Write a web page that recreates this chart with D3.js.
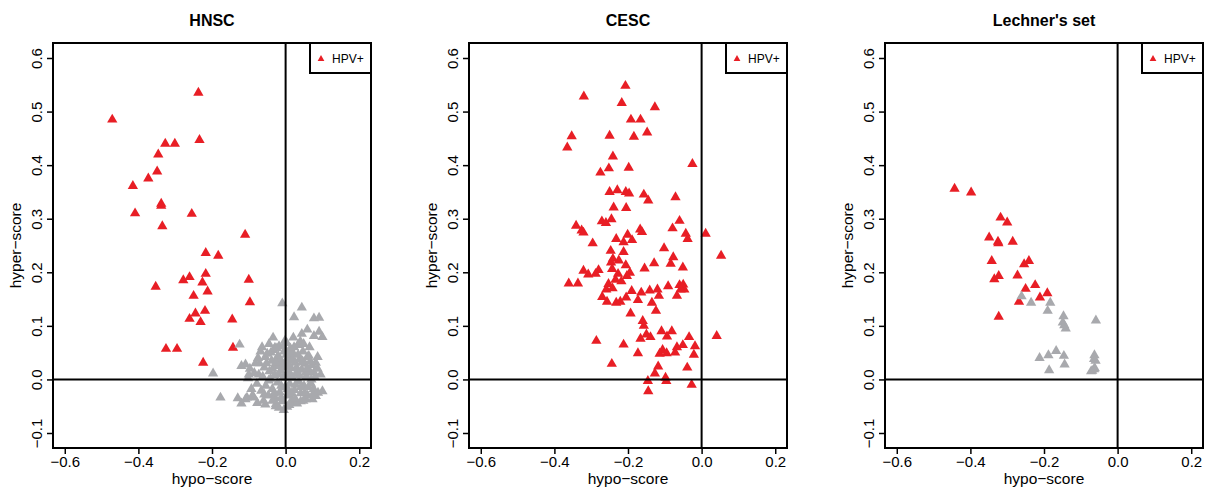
<!DOCTYPE html>
<html>
<head>
<meta charset="utf-8">
<script src="https://cdn.jsdelivr.net/npm/d3@7"></script>
<style>
  html, body { margin: 0; padding: 0; background: #fff; }
  svg { display: block; }
  text { font-family: "Liberation Sans", Arial, Helvetica, sans-serif; fill: #000; }
</style>
</head>
<body>
<svg id="chart" width="1205" height="491"></svg>
<script>
// ---------------- DATA ----------------
const panelTitles = ["HNSC", "CESC", "Lechner's set"];
const xTicks = [-0.6, -0.4, -0.2, 0.0, 0.2];
const yTicks = [-0.1, 0.0, 0.1, 0.2, 0.3, 0.4, 0.5, 0.6];
const xLabel = "hypo\u2212score";
const yLabel = "hyper\u2212score";
const legendLabel = "HPV+";

// HNSC, HPV+ samples [hypo-score, hyper-score]
const hnscPos = [
  [-0.471,0.485],[-0.237,0.535],[-0.234,0.447],[-0.327,0.440],[-0.301,0.440],
  [-0.346,0.420],[-0.349,0.388],[-0.373,0.375],[-0.415,0.361],[-0.338,0.328],
  [-0.338,0.324],[-0.409,0.310],[-0.255,0.309],[-0.335,0.286],[-0.110,0.270],
  [-0.217,0.236],[-0.183,0.231],[-0.261,0.191],[-0.278,0.185],[-0.217,0.197],
  [-0.100,0.186],[-0.226,0.181],[-0.353,0.173],[-0.212,0.164],[-0.250,0.156],
  [-0.097,0.144],[-0.219,0.128],[-0.245,0.123],[-0.261,0.113],[-0.231,0.107],
  [-0.145,0.112],[-0.325,0.057],[-0.295,0.057],[-0.143,0.059],[-0.224,0.031],
  [-0.023,0.029]
];
// HNSC, other samples
const hnscNeg = [
  [-0.009,0.142],[0.044,0.134],[0.023,0.116],[0.077,0.114],[0.091,0.115],
  [0.059,0.093],[0.044,0.085],[0.091,0.089],[0.077,0.081],[0.100,0.079],
  [-0.034,0.078],[-0.125,0.065],[-0.029,0.059],[-0.002,0.072],[0.065,0.060],
  [-0.055,0.042],[-0.023,0.041],[0.059,0.042],[0.087,0.042],[-0.197,0.011],
  [-0.177,-0.034],[-0.130,-0.035],[-0.120,-0.045],[-0.105,-0.034],[-0.120,0.025],
  [0.088,-0.025],[-0.005,-0.057],[-0.109,0.028],[-0.100,0.009],[-0.073,0.009],
  [-0.109,-0.037],[-0.086,-0.034],[-0.077,-0.044],[-0.055,-0.047],[-0.027,-0.050],
  [-0.018,-0.053],[0.018,-0.044],[0.041,-0.041],[0.055,-0.037],[0.073,-0.037],
  [0.082,-0.031],[0.100,-0.022],[0.095,0.009],[0.077,0.013],[0.082,0.031],
  [0.046,0.034],[0.055,0.013],
  [-0.085,0.012],[-0.078,-0.008],[-0.071,0.030],[-0.066,-0.021],[-0.062,0.005],
  [-0.058,0.022],[-0.054,-0.012],[-0.050,0.048],[-0.047,-0.030],[-0.044,0.015],
  [-0.041,0.001],[-0.038,0.035],[-0.036,-0.018],[-0.033,0.055],[-0.030,0.008],
  [-0.028,-0.035],[-0.025,0.025],[-0.022,-0.006],[-0.020,0.044],[-0.018,0.062],
  [-0.016,-0.024],[-0.013,0.016],[-0.011,0.033],[-0.009,-0.041],[-0.007,0.003],
  [-0.004,0.052],[-0.002,-0.015],[0.001,0.024],[0.003,0.068],[0.005,-0.030],
  [0.007,0.010],[0.009,0.040],[0.011,-0.008],[0.013,0.058],[0.015,0.021],
  [0.017,-0.038],[0.019,0.003],[0.022,0.047],[0.024,-0.020],[0.026,0.031],
  [0.029,0.012],[0.031,-0.045],[0.033,0.064],[0.036,-0.004],[0.038,0.038],
  [0.041,-0.026],[0.044,0.018],[0.047,0.052],[0.050,-0.012],[0.053,0.029],
  [0.056,0.006],[0.060,-0.030],[0.063,0.044],[0.066,0.015],[0.069,-0.008],
  [0.072,0.027],[0.076,-0.018],[0.080,0.004],[-0.093,-0.018],[-0.097,0.020],
  [-0.068,0.052],[-0.045,0.066],[0.021,0.078],[0.040,0.071],[-0.026,-0.046],
  [0.004,-0.051],[0.048,-0.040],[-0.102,0.002],[0.087,0.020],[-0.060,-0.040],
  [-0.075,0.040],[-0.064,0.060],[-0.052,0.030],[-0.046,-0.002],[-0.040,0.050],
  [-0.035,0.020],[-0.031,-0.026],[-0.024,0.058],[-0.019,0.010],[-0.015,0.036],
  [-0.012,-0.012],[-0.008,0.022],[-0.006,0.062],[-0.003,0.030],[0.000,0.004],
  [0.002,0.046],[0.006,-0.018],[0.008,0.028],[0.012,0.050],[0.014,0.008],
  [0.016,-0.026],[0.020,0.036],[0.023,0.060],[0.027,-0.010],[0.030,0.022],
  [0.034,0.046],[0.037,0.008],[0.042,-0.014],[0.045,0.032],[0.049,0.066],
  [0.052,-0.025],[0.058,0.020],[0.062,-0.014],[0.067,0.034],[0.070,0.000],
  [0.074,-0.028],[-0.090,-0.030],[-0.082,0.030],[-0.058,-0.028],[-0.036,-0.040],
  [-0.012,-0.034],[0.010,-0.048],[0.026,-0.036],[-0.021,0.027],[-0.026,0.031]
];
// CESC, HPV+ samples
const cescPos = [
  [-0.207,0.548],[-0.320,0.528],[-0.217,0.516],[-0.127,0.508],[-0.192,0.485],
  [-0.166,0.485],[-0.353,0.454],[-0.250,0.455],[-0.184,0.453],[-0.148,0.461],
  [-0.365,0.433],[-0.241,0.416],[-0.025,0.402],[-0.252,0.394],[-0.198,0.395],
  [-0.275,0.386],[-0.250,0.350],[-0.229,0.353],[-0.206,0.350],[-0.197,0.347],
  [-0.157,0.345],[-0.145,0.334],[-0.071,0.340],[-0.239,0.321],[-0.205,0.320],
  [-0.060,0.296],[-0.271,0.295],[-0.245,0.299],[-0.260,0.292],[-0.341,0.287],
  [-0.326,0.278],[-0.321,0.274],[-0.167,0.280],[-0.162,0.275],[-0.079,0.282],
  [-0.043,0.272],[0.011,0.272],[-0.038,0.262],[-0.201,0.270],[-0.232,0.262],
  [-0.189,0.260],[-0.296,0.254],[-0.212,0.256],
  [-0.247,0.240],[-0.212,0.238],[-0.102,0.245],[-0.077,0.228],[0.053,0.231],
  [-0.241,0.225],[-0.225,0.222],[-0.246,0.218],[-0.084,0.216],[-0.129,0.217],
  [-0.206,0.213],[-0.243,0.206],[-0.155,0.207],[-0.051,0.209],[-0.321,0.203],
  [-0.280,0.204],[-0.195,0.199],[-0.308,0.196],[-0.288,0.197],[-0.227,0.197],
  [-0.203,0.193],[-0.234,0.186],[-0.218,0.183],[-0.361,0.179],[-0.336,0.179],
  [-0.253,0.178],[-0.091,0.174],[-0.060,0.176],[-0.050,0.177],[-0.047,0.168],
  [-0.057,0.168],[-0.259,0.168],[-0.242,0.170],[-0.190,0.165],[-0.164,0.162],
  [-0.141,0.166],[-0.120,0.168],[-0.270,0.154],[-0.205,0.153],[-0.173,0.148],
  [-0.116,0.156],[-0.067,0.156],[-0.257,0.145],[-0.232,0.143],[-0.221,0.145],
  [-0.135,0.143],[-0.124,0.128],[-0.193,0.123],[-0.160,0.109],[-0.157,0.100],
  [-0.150,0.084],[-0.139,0.079],[-0.166,0.076],[-0.109,0.090],[-0.081,0.090],
  [-0.094,0.080],[-0.034,0.079],[0.041,0.081],[-0.286,0.072],[-0.212,0.065],
  [-0.051,0.064],[-0.018,0.062],[-0.067,0.060],[-0.106,0.055],[-0.114,0.048],
  [-0.095,0.049],[-0.072,0.050],[-0.173,0.049],[-0.021,0.046],[-0.244,0.029],
  [-0.118,0.024],[-0.039,0.022],[-0.127,0.011],[-0.098,0.003],[-0.096,-0.003],
  [-0.146,-0.003],[-0.027,-0.010],[-0.145,-0.022]
];
// Lechner's set, HPV+ samples
const lechPos = [
  [-0.443,0.356],[-0.398,0.349],[-0.318,0.302],[-0.300,0.293],[-0.349,0.265],
  [-0.325,0.257],[-0.324,0.254],[-0.285,0.257],[-0.342,0.221],[-0.254,0.215],
  [-0.241,0.221],[-0.272,0.194],[-0.323,0.193],[-0.335,0.187],[-0.224,0.176],
  [-0.250,0.169],[-0.191,0.161],[-0.211,0.153],[-0.268,0.145],[-0.323,0.117]
];
// Lechner's set, other samples
const lechNeg = [
  [-0.261,0.155],[-0.235,0.143],[-0.183,0.143],[-0.190,0.128],[-0.147,0.118],
  [-0.149,0.106],[-0.145,0.101],[-0.141,0.095],[-0.059,0.110],[-0.212,0.040],
  [-0.188,0.045],[-0.167,0.053],[-0.146,0.044],[-0.063,0.045],[-0.064,0.038],
  [-0.060,0.035],[-0.186,0.017],[-0.144,0.028],[-0.072,0.015],[-0.069,0.016],
  [-0.064,0.019],[-0.062,0.021]
];

// ---------------- LAYOUT / STYLE ----------------
const panels = [
  { title: panelTitles[0], pos: hnscPos, neg: hnscNeg, left: 53 },
  { title: panelTitles[1], pos: cescPos, neg: [],      left: 469 },
  { title: panelTitles[2], pos: lechPos, neg: lechNeg, left: 885 }
];
const plotW = 318, plotTop = 43, plotBottom = 448;
const RED = "#E81E25", GRAY = "#A8A9AD";
const FONT = 15;

const svg = d3.select("#chart");
const tri = d3.symbol().type(d3.symbolTriangle).size(46);
const triSmall = d3.symbol().type(d3.symbolTriangle).size(20);
const fmt = d3.format(".1f");

panels.forEach(p => {
  const x = d3.scaleLinear().domain([-0.632, 0.232]).range([p.left, p.left + plotW]);
  const y = d3.scaleLinear().domain([-0.128, 0.628]).range([plotBottom, plotTop]);
  const g = svg.append("g");

  // points: HPV+ first, others on top (as in reference)
  g.selectAll("path.pos").data(p.pos).enter().append("path")
    .attr("class", "pos")
    .attr("d", tri)
    .attr("transform", d => `translate(${x(d[0])},${y(d[1])})`)
    .attr("fill", RED);
  g.selectAll("path.neg").data(p.neg).enter().append("path")
    .attr("class", "neg")
    .attr("d", tri)
    .attr("transform", d => `translate(${x(d[0])},${y(d[1])})`)
    .attr("fill", GRAY);

  // zero lines
  g.append("line").attr("x1", x(0)).attr("x2", x(0)).attr("y1", plotTop).attr("y2", plotBottom)
    .attr("stroke", "#000").attr("stroke-width", 2);
  g.append("line").attr("x1", p.left).attr("x2", p.left + plotW).attr("y1", y(0)).attr("y2", y(0))
    .attr("stroke", "#000").attr("stroke-width", 2);

  // box
  g.append("rect").attr("x", p.left).attr("y", plotTop).attr("width", plotW).attr("height", plotBottom - plotTop)
    .attr("fill", "none").attr("stroke", "#000").attr("stroke-width", 2);

  // x axis
  const gx = g.append("g").attr("transform", `translate(0,${plotBottom})`)
    .call(d3.axisBottom(x).tickValues(xTicks).tickFormat(fmt).tickSize(6).tickPadding(2));
  gx.select(".domain").remove();
  gx.selectAll(".tick line").attr("stroke-width", 1.5);
  gx.selectAll(".tick text").attr("font-size", FONT).attr("font-family", null);

  // y axis
  const gy = g.append("g").attr("transform", `translate(${p.left},0)`)
    .call(d3.axisLeft(y).tickValues(yTicks).tickFormat(fmt).tickSize(6));
  gy.select(".domain").remove();
  gy.selectAll(".tick line").attr("stroke-width", 1.5);
  gy.selectAll(".tick text")
    .attr("font-size", FONT).attr("font-family", null)
    .attr("x", null).attr("dy", null)
    .attr("text-anchor", "middle")
    .attr("transform", "translate(-11,0) rotate(-90)");

  // titles
  g.append("text").attr("x", p.left + plotW / 2).attr("y", 26)
    .attr("text-anchor", "middle").attr("font-weight", "bold").attr("font-size", 16).text(p.title);
  g.append("text").attr("x", p.left + plotW / 2).attr("y", 484)
    .attr("text-anchor", "middle").attr("font-size", 15.5).text(xLabel);
  g.append("text").attr("transform", `translate(${p.left - 32},${(plotTop + plotBottom) / 2}) rotate(-90)`)
    .attr("text-anchor", "middle").attr("font-size", 15.5).text(yLabel);

  // legend
  const lx = p.left + plotW - 61;
  g.append("rect").attr("x", lx).attr("y", plotTop).attr("width", 61).attr("height", 30)
    .attr("fill", "#fff").attr("stroke", "#000").attr("stroke-width", 2);
  g.append("path").attr("d", triSmall).attr("transform", `translate(${lx + 11},${plotTop + 16})`).attr("fill", RED);
  g.append("text").attr("x", lx + 22).attr("y", plotTop + 20).attr("font-size", 12).text(legendLabel);
});
</script>
</body>
</html>
